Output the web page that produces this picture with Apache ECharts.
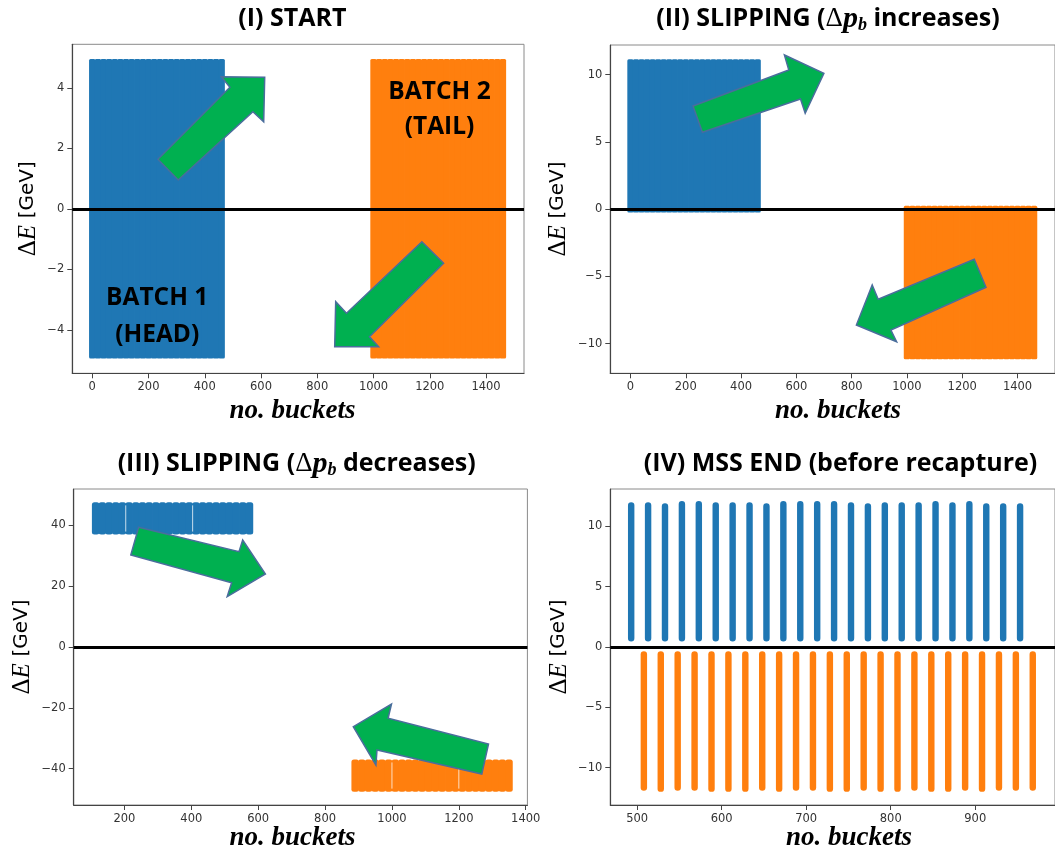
<!DOCTYPE html>
<html>
<head>
<meta charset="utf-8">
<script src="https://cdn.jsdelivr.net/npm/echarts@6/dist/echarts.min.js"></script>
<style>
  html, body { margin: 0; padding: 0; background: #fff; }
  #chart { width: 1055px; height: 855px; }
</style>
</head>
<body>
<div id="chart"></div>
<script>
// Bunch centres (bucket number) of the two batches at each stage of the slip-stacking cycle
const startHead = [0, 20, 40, 60, 80, 100, 120, 140, 160, 180, 200, 220, 240, 260, 280, 300, 320, 340, 360, 380, 400, 420, 440, 460];
const startTail = [1000, 1020, 1040, 1060, 1080, 1100, 1120, 1140, 1160, 1180, 1200, 1220, 1240, 1260, 1280, 1300, 1320, 1340, 1360, 1380, 1400, 1420, 1440, 1460];
const slipUpHead = [0, 20, 40, 60, 80, 100, 120, 140, 160, 180, 200, 220, 240, 260, 280, 300, 320, 340, 360, 380, 400, 420, 440, 460];
const slipUpTail = [1000, 1020, 1040, 1060, 1080, 1100, 1120, 1140, 1160, 1180, 1200, 1220, 1240, 1260, 1280, 1300, 1320, 1340, 1360, 1380, 1400, 1420, 1440, 1460];
const slipDownHead = [114, 134, 154, 174, 194, 214, 234, 254, 274, 294, 314, 334, 354, 374, 394, 414, 434, 454, 474, 494, 514, 534, 554, 574];
const slipDownTail = [890, 910, 930, 950, 970, 990, 1010, 1030, 1050, 1070, 1090, 1110, 1130, 1150, 1170, 1190, 1210, 1230, 1250, 1270, 1290, 1310, 1330, 1350];
const endHead = [493, 513, 533, 553, 573, 593, 613, 633, 653, 673, 693, 713, 733, 753, 773, 793, 813, 833, 853, 873, 893, 913, 933, 953];
const endTail = [508, 528, 548, 568, 588, 608, 628, 648, 668, 688, 708, 728, 748, 768, 788, 808, 828, 848, 868, 888, 908, 928, 948, 968];

// Small empty gaps between groups of bunches during stage III (bucket number)
const slipDownHeadGaps = [204, 404];
const slipDownTailGaps = [1000, 1200];

// Energy spread of the bunches, ΔE in GeV: [lowest, highest]
const startHeadDE = [-4.95, 4.95];
const startTailDE = [-4.95, 4.95];
const slipUpHeadDE = [-0.25, 11.15];
const slipUpTailDE = [-11.15, 0.25];
const slipDownHeadDE = [37, 47.6];
const slipDownTailDE = [-47.6, -37];
// Stage IV: each bunch has its own extent
const endHeadLow = 0.45;
const endHeadTop = [12.0, 12.0, 11.9, 12.1, 12.1, 12.0, 12.0, 12.0, 11.9, 12.1, 12.1, 12.1, 12.1, 12.0, 11.9, 12.0, 12.0, 12.0, 12.1, 12.0, 12.1, 11.9, 11.9, 11.9];
const endTailHigh = -0.35;
const endTailBottom = [-11.9, -12.0, -11.9, -11.9, -12.0, -12.0, -12.0, -11.9, -12.0, -11.9, -11.9, -12.0, -12.0, -11.9, -12.0, -12.0, -11.9, -12.0, -12.0, -11.9, -12.0, -11.9, -11.9, -11.9];

// Tick values of each panel
const ticksX1 = [0, 200, 400, 600, 800, 1000, 1200, 1400];
const ticksY1 = [-4, -2, 0, 2, 4];
const ticksX2 = [0, 200, 400, 600, 800, 1000, 1200, 1400];
const ticksY2 = [-10, -5, 0, 5, 10];
const ticksX3 = [200, 400, 600, 800, 1000, 1200, 1400];
const ticksY3 = [-40, -20, 0, 20, 40];
const ticksX4 = [500, 600, 700, 800, 900];
const ticksY4 = [-10, -5, 0, 5, 10];

const BLUE = '#1f77b4';
const ORANGE = '#ff7f0e';

// spread of one bunch along the bucket axis
const SLOT = 20;
const NARROW = 7.6;

function bunches(centres, width, lows, highs) {
  return centres.map((c, i) => [
    c - width / 2,
    c + width / 2,
    Array.isArray(lows) ? lows[i] : lows,
    Array.isArray(highs) ? highs[i] : highs
  ]);
}

function bunchRender(radius, pad) {
  return function (params, api) {
    const a = api.coord([api.value(0), api.value(3)]);
    const b = api.coord([api.value(1), api.value(2)]);
    return {
      type: 'rect',
      shape: { x: a[0] - pad, y: a[1], width: b[0] - a[0] + 2 * pad, height: b[1] - a[1], r: radius },
      style: { fill: api.visual('color') }
    };
  };
}

function bunchSeries(idx, data, color, radius, pad) {
  return {
    type: 'custom',
    xAxisIndex: idx, yAxisIndex: idx,
    renderItem: bunchRender(radius, pad),
    encode: { x: [0, 1], y: [2, 3] },
    itemStyle: { color },
    data, clip: true, silent: true, z: 2
  };
}

// thin light seams inside a batch
function gapSeries(idx, gaps, range) {
  return {
    type: 'custom',
    xAxisIndex: idx, yAxisIndex: idx,
    renderItem: function (params, api) {
      const a = api.coord([api.value(0), api.value(2)]);
      const b = api.coord([api.value(0), api.value(1)]);
      return {
        type: 'line',
        shape: { x1: a[0], y1: a[1] + 3, x2: b[0], y2: b[1] - 3 },
        style: { stroke: 'rgba(255,255,255,0.75)', lineWidth: 1 }
      };
    },
    encode: { x: 0, y: [1, 2] },
    data: gaps.map(g => [g, range[0], range[1]]),
    clip: true, silent: true, z: 3
  };
}

function zeroSeries(idx) {
  return {
    type: 'line', xAxisIndex: idx, yAxisIndex: idx, data: [], z: 5, silent: true,
    markLine: {
      silent: true, symbol: 'none', label: { show: false },
      lineStyle: { color: '#000', width: 3.2, type: 'solid' },
      data: [{ yAxis: 0 }]
    }
  };
}

const minus = v => String(v).replace('-', '\u2212');

function axis(idx, min, max, ticks) {
  return {
    type: 'value', gridIndex: idx, min, max,
    axisLine: { show: true, onZero: false, lineStyle: { color: '#444', width: 1.2 } },
    axisTick: { show: true, length: 5, customValues: ticks, lineStyle: { color: '#444' } },
    axisLabel: { customValues: ticks, margin: 8, fontSize: 11.5, color: '#333', fontFamily: 'DejaVu Sans', formatter: minus },
    splitLine: { show: false }
  };
}

const gridBase = { show: true, borderColor: '#8a8a8a', borderWidth: 1, backgroundColor: 'transparent' };

// --- text and annotation shapes ---
const TITLE_FONT = { fontFamily: 'Open Sans', fontWeight: 700, fontSize: 25 };
const mathRich = {
  d: { fontFamily: 'Liberation Serif', fontSize: 27, fontWeight: 400, lineHeight: 30 },
  p: { fontFamily: 'Liberation Serif', fontStyle: 'italic', fontWeight: 700, fontSize: 30, lineHeight: 30 },
  b: { fontFamily: 'Liberation Serif', fontStyle: 'italic', fontWeight: 700, fontSize: 18, lineHeight: 14, verticalAlign: 'bottom' }
};
function title(text, x, y) {
  return {
    type: 'text', x, y, z: 100, silent: true,
    style: Object.assign({ text, fill: '#000', align: 'center', verticalAlign: 'middle', lineHeight: 30, rich: mathRich }, TITLE_FONT)
  };
}
function label(text, x, y) {
  return {
    type: 'text', x, y, z: 100, silent: true,
    style: { text, fill: '#000', align: 'center', verticalAlign: 'middle', fontFamily: 'Open Sans', fontWeight: 700, fontSize: 24.5 }
  };
}
function bucketName(x, y) {
  return {
    type: 'text', x, y, z: 100, silent: true,
    style: { text: 'no. buckets', fill: '#000', align: 'center', verticalAlign: 'middle', fontFamily: 'Liberation Serif', fontStyle: 'italic', fontWeight: 700, fontSize: 27 }
  };
}
const yRich = {
  d: { fontFamily: 'Liberation Serif', fontSize: 25, fill: '#000' },
  e: { fontFamily: 'Liberation Serif', fontStyle: 'italic', fontSize: 25, fill: '#000' },
  g: { fontFamily: 'DejaVu Sans', fontSize: 20, fill: '#000' }
};
function energyName(x, y) {
  return {
    type: 'text', x, y, rotation: Math.PI / 2, z: 100, silent: true,
    style: { text: '{d|Δ}{e|E}  {g|[GeV]}', rich: yRich, align: 'center', verticalAlign: 'middle' }
  };
}
function arrow(points) {
  return {
    type: 'polygon', z: 90, silent: true,
    shape: { points },
    style: { fill: '#00b050', stroke: '#4a6d9c', lineWidth: 1.5 }
  };
}

const chart = echarts.init(document.getElementById('chart'), null, { renderer: 'canvas' });

chart.setOption({
  animation: false,
  backgroundColor: '#fff',
  grid: [
    Object.assign({ left: 72.3, top: 44.3, width: 451.7, height: 329 }, gridBase),
    Object.assign({ left: 610.3, top: 45, width: 457, height: 328.3 }, gridBase),
    Object.assign({ left: 73.7, top: 489, width: 453.7, height: 316 }, gridBase),
    Object.assign({ left: 610.3, top: 489, width: 457, height: 316 }, gridBase)
  ],
  xAxis: [
    axis(0, -71, 1535, ticksX1),
    axis(1, -73, 1535.6, ticksX2),
    axis(2, 48.4, 1405, ticksX3),
    axis(3, 468.3, 994.3, ticksX4)
  ],
  yAxis: [
    axis(0, -5.44, 5.44, ticksY1),
    axis(1, -12.2, 12.2, ticksY2),
    axis(2, -52, 52, ticksY3),
    axis(3, -13.09, 13.09, ticksY4)
  ],
  series: [
    bunchSeries(0, bunches(startHead, SLOT, startHeadDE[0], startHeadDE[1]), BLUE, 1.5, 0.4),
    bunchSeries(0, bunches(startTail, SLOT, startTailDE[0], startTailDE[1]), ORANGE, 1.5, 0.4),
    zeroSeries(0),
    bunchSeries(1, bunches(slipUpHead, SLOT, slipUpHeadDE[0], slipUpHeadDE[1]), BLUE, 1.5, 0.4),
    bunchSeries(1, bunches(slipUpTail, SLOT, slipUpTailDE[0], slipUpTailDE[1]), ORANGE, 1.5, 0.4),
    zeroSeries(1),
    bunchSeries(2, bunches(slipDownHead, SLOT, slipDownHeadDE[0], slipDownHeadDE[1]), BLUE, 2.5, 0.4),
    bunchSeries(2, bunches(slipDownTail, SLOT, slipDownTailDE[0], slipDownTailDE[1]), ORANGE, 2.5, 0.4),
    gapSeries(2, slipDownHeadGaps, slipDownHeadDE),
    gapSeries(2, slipDownTailGaps, slipDownTailDE),
    zeroSeries(2),
    bunchSeries(3, bunches(endHead, NARROW, endHeadLow, endHeadTop), BLUE, 3.2, 0),
    bunchSeries(3, bunches(endTail, NARROW, endTailBottom, endTailHigh), ORANGE, 3.2, 0),
    zeroSeries(3)
  ],
  graphic: [
    title('(I) START', 292.4, 19),
    title('(II) SLIPPING ({d|Δ}{p|p}{b|b} increases)', 828, 19),
    title('(III) SLIPPING ({d|Δ}{p|p}{b|b} decreases)', 296.7, 464),
    title('(IV) MSS END (before recapture)', 840.5, 464),

    energyName(28, 208.8),
    energyName(558, 209),
    energyName(22, 647),
    energyName(559, 647),

    bucketName(292.4, 411),
    bucketName(838, 411),
    bucketName(292.4, 838),
    bucketName(849, 838),

    label('BATCH 2', 439.5, 91.7),
    label('(TAIL)', 439.5, 126.7),
    label('BATCH 1', 157.2, 297.7),
    label('(HEAD)', 157.2, 335),

    arrow([[157.9, 159.3], [229.9, 87.3], [221.4, 76.7], [264.7, 77.3], [263.7, 121.7], [252.9, 111.7], [178.2, 180]]),
    arrow([[421.9, 241.7], [443.6, 263.3], [369.5, 336.7], [378.6, 346.7], [334.7, 346.7], [335.7, 301.7], [346.5, 313.3]]),
    arrow([[693.0, 106], [788.8, 70], [784.4, 55], [823.9, 73.3], [805.2, 113.3], [800.5, 99], [702.4, 132.3]]),
    arrow([[974.3, 259.3], [986, 287.3], [890.9, 330], [896.6, 341.7], [856.4, 325], [872.2, 285], [878.2, 299.3]]),
    arrow([[138.6, 527.3], [239, 551.7], [242.7, 540], [265.4, 574], [227.2, 596.7], [231.6, 582.7], [130.8, 555]]),
    arrow([[488.5, 744], [481.8, 774], [377, 750], [375.9, 765], [353.3, 726.7], [391.5, 704], [388.1, 718.3]])
  ]
});
</script>
</body>
</html>
